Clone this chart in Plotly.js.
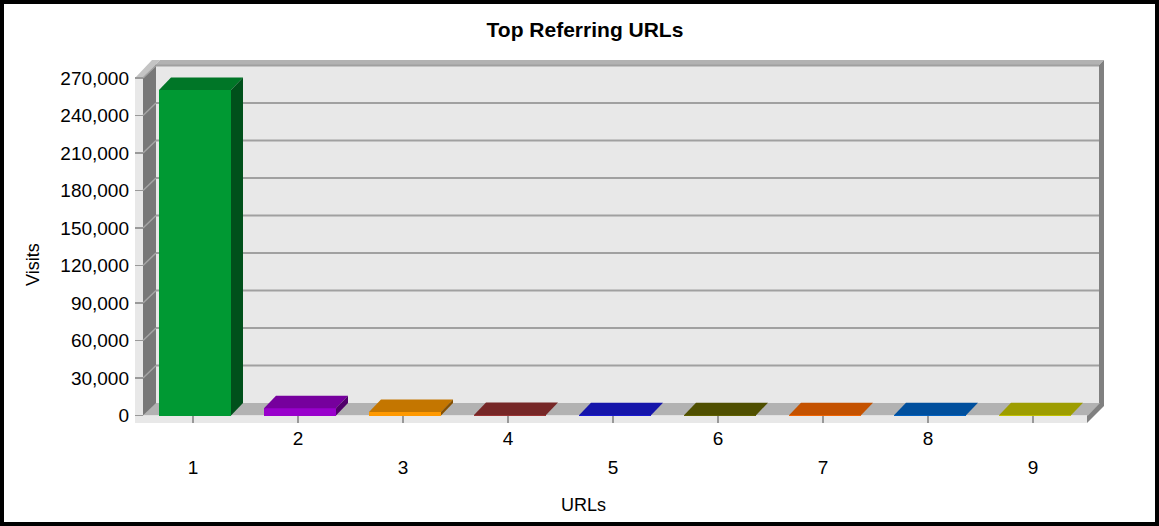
<!DOCTYPE html>
<html><head><meta charset="utf-8">
<script src="https://cdn.plot.ly/plotly-3.0.1.min.js"></script>
<style>html,body{margin:0;padding:0;background:#fff}#chart{width:1159px;height:526px}</style>
</head><body><div id="chart"></div>
<script>
// ---- data ----
const urls = [1, 2, 3, 4, 5, 6, 7, 8, 9];
const urlLabels = ['1', '2', '3', '4', '5', '6', '7', '8', '9'];
const visits = [260400, 5900, 2900, 350, 300, 250, 220, 200, 180];
const yTickValues = [0, 30000, 60000, 90000, 120000, 150000, 180000, 210000, 240000, 270000];
const chartTitle = 'Top Referring URLs';
const xTitle = 'URLs';
const yTitle = 'Visits';

// ---- styles ----
const frontColors = ['#009933', '#9900cc', '#ff9900', '#993333', '#1b1bdd', '#666600', '#ff6a00', '#0066cc', '#cccc00'];
const FONT = 'Arial, "Liberation Sans", sans-serif';

// ---- geometry (pixel layout of the 3D box) ----
const G = {left: 135, right: 1104, top: 60, bottom: 423, zeroY: 415.5, cat1X: 193, catStep: 105, unitsPerPx: 800,
           depthX: 12, depthY: 12.5, barPx: 72, barShiftPx: 2};
const xRange = [1 + (G.left - G.cat1X) / G.catStep, 1 + (G.right - G.cat1X) / G.catStep];
const yRange = [-(G.bottom - G.zeroY) * G.unitsPerPx, (G.zeroY - G.top) * G.unitsPerPx];
const ddx = G.depthX / G.catStep, ddy = G.depthY * G.unitsPerPx, barW = G.barPx / G.catStep;
const shift = G.barShiftPx / G.catStep;
const X = px => 1 + (px - G.cat1X) / G.catStep;
const Y = py => (G.zeroY - py) * G.unitsPerPx;
const W = G.right - G.left, H = G.bottom - G.top;
const PXp = px => (px - G.left) / W;
const PYp = py => (G.bottom - py) / H;

function shade(hex, f) {
  const n = parseInt(hex.slice(1), 16);
  const r = Math.round(((n >> 16) & 255) * f), g = Math.round(((n >> 8) & 255) * f), b = Math.round((n & 255) * f);
  return 'rgb(' + r + ',' + g + ',' + b + ')';
}
function poly(pts, color) {
  let p = 'M' + pts.map(q => X(q[0]) + ',' + Y(q[1])).join('L') + 'Z';
  return {type: 'path', xref: 'x', yref: 'y', path: p, fillcolor: color, line: {width: 0}, layer: 'below'};
}

const shapes = [];
// back wall
shapes.push(poly([[155, 65], [1099, 65], [1099, 403], [155, 403]], '#e8e8e8'));
shapes.push(poly([[155, 65], [1099, 65], [1104, 60], [160, 60]], '#b2b2b2'));
shapes.push(poly([[1099, 65], [1104, 60], [1104, 406], [1087, 423], [1087, 415.5], [1099, 403]], '#808080'));
// floor
shapes.push(poly([[143, 415.5], [155, 403], [1100, 403], [1088, 415.5]], '#b2b2b2'));
shapes.push(poly([[135, 415.5], [1087, 415.5], [1087, 423], [135, 423]], '#e8e8e8'));
// left wall
shapes.push(poly([[143, 78], [156, 64], [156, 403], [143, 415.5]], '#787878'));
shapes.push(poly([[135, 78], [143, 78], [160, 60], [152, 60]], '#c4c4c4'));
shapes.push(poly([[135, 78], [143, 78], [143, 423], [135, 423]], '#e8e8e8'));
// gridlines: back wall + diagonal on left wall
yTickValues.forEach(v => {
  if (v === 0) return;
  shapes.push({type: 'line', xref: 'x', yref: 'y', layer: 'below', x0: X(156), x1: X(1099), y0: v + ddy, y1: v + ddy,
               line: {color: '#a0a0a0', width: 2}});
  shapes.push({type: 'line', xref: 'x', yref: 'y', layer: 'below', x0: X(143), x1: X(156), y0: v, y1: v + ddy,
               line: {color: '#a4a4a4', width: 1.5}});
});
// outer black border
shapes.push({type: 'rect', xref: 'paper', yref: 'paper', layer: 'above',
             x0: PXp(2), x1: PXp(1157), y0: PYp(524), y1: PYp(2),
             line: {color: '#000', width: 4}, fillcolor: 'rgba(0,0,0,0)'});

// ---- traces ----
const traces = [{
  type: 'bar', x: urls.map(u => u + shift), y: visits, width: barW, marker: {color: frontColors, line: {width: 0}},
  hoverinfo: 'skip', showlegend: false
}];
urls.forEach((u, i) => {
  const v = visits[i], x0 = u + shift - barW / 2, x1 = u + shift + barW / 2;
  traces.push({type: 'scatter', mode: 'lines', fill: 'toself', line: {width: 0}, fillcolor: shade(frontColors[i], 0.77),
               x: [x0, x1, x1 + ddx, x0 + ddx, x0], y: [v, v, v + ddy, v + ddy, v], hoverinfo: 'skip', showlegend: false});
  traces.push({type: 'scatter', mode: 'lines', fill: 'toself', line: {width: 0}, fillcolor: shade(frontColors[i], 0.52),
               x: [x1, x1 + ddx, x1 + ddx, x1, x1], y: [0, ddy, v + ddy, v, 0], hoverinfo: 'skip', showlegend: false});
});
// invisible carrier for the second (lower) row of x tick labels
traces.push({type: 'scatter', mode: 'markers', x: [urls[0]], y: [0], xaxis: 'x2', marker: {opacity: 0},
             hoverinfo: 'skip', showlegend: false});

const evenText = urlLabels.map((t, i) => (i % 2 === 1 ? t : ''));
const oddVals = urls.filter((u, i) => i % 2 === 0);
const oddText = urlLabels.filter((t, i) => i % 2 === 0);

const layout = {
  width: 1159, height: 526,
  margin: {l: G.left, r: 1159 - G.right, t: G.top, b: 526 - G.bottom, pad: 0},
  paper_bgcolor: '#ffffff', plot_bgcolor: '#ffffff',
  font: {family: FONT, color: '#000', size: 19},
  title: {text: '<b>' + chartTitle + '</b>', font: {family: FONT, size: 21, color: '#000'},
          xref: 'paper', x: PXp(585), xanchor: 'center', yref: 'container', y: 1 - 30 / 526, yanchor: 'middle'},
  xaxis: {range: xRange, tickvals: urls, ticktext: evenText, ticks: 'inside', ticklen: 7.5, tickwidth: 1.5,
          tickcolor: '#999999', showgrid: false, zeroline: false, showline: false, fixedrange: true,
          tickfont: {size: 19}, ticklabelstandoff: 2, automargin: false},
  xaxis2: {range: xRange, overlaying: 'x', anchor: 'y', side: 'bottom', tickvals: oddVals, ticktext: oddText,
           ticks: '', showgrid: false, zeroline: false, showline: false, tickfont: {size: 19},
           ticklabelstandoff: 31, automargin: false},
  yaxis: {range: yRange, tickvals: yTickValues, tickformat: ',d', ticks: 'inside', ticklen: 8, tickwidth: 1.5,
          tickcolor: '#999999', showgrid: false, zeroline: false, showline: false, fixedrange: true,
          tickfont: {size: 19}, ticklabelstandoff: 5, automargin: false},
  annotations: [
    {text: xTitle, xref: 'paper', yref: 'paper', x: PXp(583), y: PYp(505), xanchor: 'center', yanchor: 'middle',
     showarrow: false, font: {size: 18}},
    {text: yTitle, xref: 'paper', yref: 'paper', x: PXp(33), y: PYp(265), xanchor: 'center', yanchor: 'middle',
     textangle: -90, showarrow: false, font: {size: 18}}
  ],
  shapes: shapes,
  bargap: 0, showlegend: false
};
Plotly.newPlot('chart', traces, layout, {staticPlot: true, displayModeBar: false});
</script></body></html>
